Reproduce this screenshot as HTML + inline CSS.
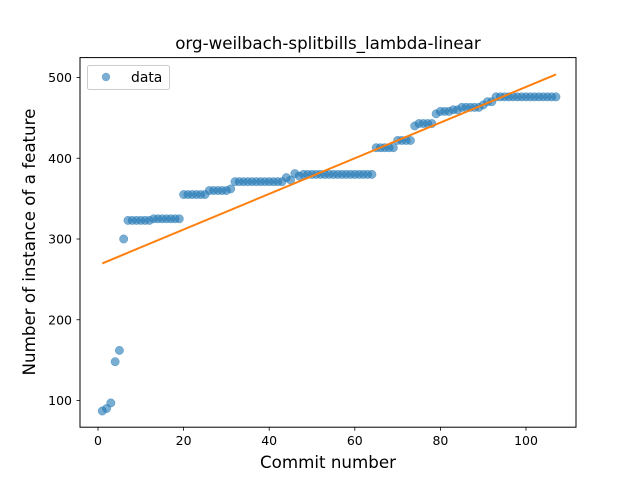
<!DOCTYPE html>
<html><head><meta charset="utf-8">
<style>
html,body{margin:0;padding:0;background:#fff;}
svg{display:block;font-family:"DejaVu Sans","Liberation Sans",sans-serif;}
</style></head>
<body>
<svg id="chart" width="640" height="480" viewBox="0 0 640 480" xmlns="http://www.w3.org/2000/svg">
<rect x="0" y="0" width="640" height="480" fill="#fff"/>
<text x="328" y="49" text-anchor="middle" font-size="16.7">org-weilbach-splitbills_lambda-linear</text>
<g id="xticks"></g>
<g id="yticks"></g>
<g id="points"></g>
<g id="fit"></g>
<rect x="80" y="57.6" width="496" height="369.6" fill="none" stroke="#000" stroke-width="1"/>
<text x="328" y="468" text-anchor="middle" font-size="16.7">Commit number</text>
<text x="0" y="0" transform="translate(35,242) rotate(-90)" text-anchor="middle" font-size="16.7">Number of instance of a feature</text>
<g>
<rect x="87.5" y="65.5" width="82" height="24" rx="2" fill="#fff" stroke="#ccc"/>
<circle cx="106" cy="77" r="4.2" fill="#1f77b4" fill-opacity="0.6"/>
<text x="131" y="82" font-size="13.9">data</text>
</g>
</svg>
<script>
const xTicks=[0,20,40,60,80,100];
const yTicks=[100,200,300,400,500];
const commits=[];
for(let i=1;i<=107;i++)commits.push(i);
const counts=[87,90,97,148,162,300,323,323,323,323,323,323,325,325,325,325,325,325,325,355,355,355,355,355,355,360,360,360,360,360,362,371,371,371,371,371,371,371,371,371,371,371,371,376,373,381,378,380,380,380,380,380,380,380,380,380,380,380,380,380,380,380,380,380,413,413,413,413,413,422,422,422,422,440,443,443,443,443,455,458,458,458,460,460,463,463,463,463,463,466,470,470,476,476,476,476,476,476,476,476,476,476,476,476,476,476,476];
const NS="http://www.w3.org/2000/svg";
function xs(v){return 98+v*4.28;}
function ys(v){return 400.5-(v-100)*0.8075;}
function mk(t,a,p){const e=document.createElementNS(NS,t);for(const k in a)e.setAttribute(k,a[k]);p.appendChild(e);return e;}
const gx=document.getElementById('xticks'),gy=document.getElementById('yticks');
xTicks.forEach(t=>{const x=xs(t);
 const l=mk('line',{x1:x,x2:x,y1:427.2,y2:430.7,stroke:'#000','stroke-width':0.8},gx);
 
 
 const tx=mk('text',{x:x,y:445,'text-anchor':'middle','font-size':12.5},gx);tx.textContent=t;
 
 
});
yTicks.forEach(t=>{const y=ys(t);
 const l=mk('line',{x1:76.5,x2:80,y1:y,y2:y,stroke:'#000','stroke-width':0.8},gy);
 
 
 const tx=mk('text',{x:72,y:y+4.5,'text-anchor':'end','font-size':12.5},gy);tx.textContent=t;
 
 
});
const gp=document.getElementById('points');
commits.forEach((c,i)=>{
 const p=mk('circle',{cx:xs(c),cy:ys(counts[i]),r:4.2,fill:'#1f77b4','fill-opacity':0.6,stroke:'#1f77b4','stroke-opacity':0.6,'stroke-width':0.5},gp);
 
 
});
const n=commits.length;let sx=0,sy=0,sxx=0,sxy=0;
for(let i=0;i<n;i++){sx+=commits[i];sy+=counts[i];sxx+=commits[i]*commits[i];sxy+=commits[i]*counts[i];}
const b=(n*sxy-sx*sy)/(n*sxx-sx*sx),a=(sy-b*sx)/n;
const x0=commits[0],x1=commits[n-1];
const fl=mk('line',{x1:xs(x0),y1:ys(a+b*x0),x2:xs(x1),y2:ys(a+b*x1),stroke:'#ff7f0e','stroke-width':2},document.getElementById('fit'));


</script>
</body></html>
